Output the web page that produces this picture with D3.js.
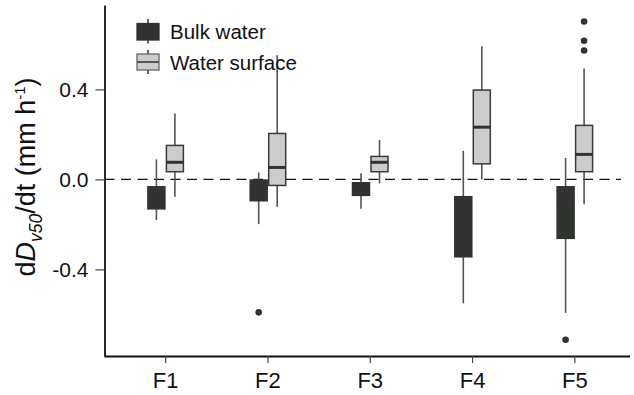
<!DOCTYPE html>
<html>
<head>
<meta charset="utf-8">
<script src="https://cdn.jsdelivr.net/npm/d3@7/dist/d3.min.js"></script>
<style>
  html, body { margin: 0; padding: 0; background: #fff; }
  svg { display: block; font-family: "Liberation Sans", Arial, sans-serif; }
</style>
</head>
<body>
<svg id="chart" width="634" height="395"></svg>
<script>
// Sampling sites and the two series
const categories = ["F1", "F2", "F3", "F4", "F5"];
const seriesNames = ["Bulk water", "Water surface"];

// Box statistics per site: lower whisker, Q1, median, Q3, upper whisker
const bulkLow    = [-0.181, -0.199, -0.131, -0.551, -0.593];
const bulkQ1     = [-0.131, -0.095, -0.071, -0.344, -0.262];
const bulkMedian = [-0.080, -0.040, -0.040, -0.200, -0.120];
const bulkQ3     = [-0.033, -0.003, -0.015, -0.077, -0.033];
const bulkHigh   = [ 0.089,  0.031,  0.027,  0.127,  0.095];
const bulkOutliers = [[], [-0.591], [], [], [-0.713]];

const surfLow    = [-0.077, -0.122, -0.018, 0.000, -0.110];
const surfQ1     = [ 0.034, -0.027,  0.034, 0.069,  0.034];
const surfMedian = [ 0.076,  0.053,  0.076, 0.232,  0.111];
const surfQ3     = [ 0.151,  0.204,  0.102, 0.397,  0.240];
const surfHigh   = [ 0.293,  0.552,  0.175, 0.592,  0.493];
const surfOutliers = [[], [], [], [], [0.702, 0.616, 0.573]];

const yTicks = [-0.4, 0.0, 0.4];

const fills   = { "Bulk water": "#313331", "Water surface": "#cccccc" };
const strokes = { "Bulk water": "#313331", "Water surface": "#3a3a3a" };
const FONT = "\"Liberation Sans\", Arial, sans-serif";

function build(name, low, q1, med, q3, high, outs) {
  return categories.map((c, i) => ({
    series: name, cat: c, low: low[i], q1: q1[i], med: med[i], q3: q3[i], high: high[i], outliers: outs[i]
  }));
}
const boxes = build("Bulk water", bulkLow, bulkQ1, bulkMedian, bulkQ3, bulkHigh, bulkOutliers)
  .concat(build("Water surface", surfLow, surfQ1, surfMedian, surfQ3, surfHigh, surfOutliers));

const svg = d3.select("#chart");

const x = d3.scaleBand().domain(categories).range([114.5, 626]).padding(0);
const sub = d3.scaleBand().domain(seriesNames).range([-18.5, 18.5]).padding(0);
const y = d3.scaleLinear().domain([-0.785, 0.775]).range([356, 5]);

const axisLeft = 104.5, axisBottom = 356;

// zero reference line
svg.append("line")
  .attr("x1", axisLeft).attr("x2", 621)
  .attr("y1", y(0)).attr("y2", y(0))
  .attr("stroke", "#111").attr("stroke-width", 1.3)
  .attr("stroke-dasharray", "10,6.5");

// boxes
const g = svg.append("g");
const bx = d => x(d.cat) + x.bandwidth() / 2 + sub(d.series);
const bw = sub.bandwidth();

const item = g.selectAll("g.box").data(boxes).join("g").attr("class", "box");

item.append("line")
  .attr("x1", d => bx(d) + bw / 2).attr("x2", d => bx(d) + bw / 2)
  .attr("y1", d => y(d.low)).attr("y2", d => y(d.high))
  .attr("stroke", "#555").attr("stroke-width", 1.6);

item.append("rect")
  .attr("x", d => bx(d) + 0.75).attr("width", bw - 1.5)
  .attr("y", d => y(d.q3)).attr("height", d => y(d.q1) - y(d.q3))
  .attr("fill", d => fills[d.series])
  .attr("stroke", d => strokes[d.series]).attr("stroke-width", 1.5);

item.append("line")
  .attr("x1", d => bx(d) + 0.75).attr("x2", d => bx(d) + bw - 0.75)
  .attr("y1", d => y(d.med)).attr("y2", d => y(d.med))
  .attr("stroke", "#313331").attr("stroke-width", 3);

item.selectAll("circle").data(d => d.outliers.map(v => ({ v, d })))
  .join("circle")
  .attr("cx", o => bx(o.d) + bw / 2).attr("cy", o => y(o.v))
  .attr("r", 3.3).attr("fill", "#313331");

// axes
const yAxis = d3.axisLeft(y).tickValues(yTicks)
  .tickFormat(v => d3.format(".1f")(v).replace("\u2212", "-"))
  .tickSize(9).tickSizeOuter(0).tickPadding(7);
const ya = svg.append("g").attr("transform", `translate(${axisLeft},0)`).call(yAxis);
ya.select(".domain").attr("stroke", "#111").attr("stroke-width", 1.8);
ya.selectAll(".tick line").attr("stroke", "#444").attr("stroke-width", 1.2);
ya.selectAll(".tick text").attr("font-size", 21).attr("fill", "#111").attr("font-family", FONT);

const xa = svg.append("g").attr("transform", `translate(0,${axisBottom})`)
  .call(d3.axisBottom(x).tickSize(7).tickSizeOuter(0).tickPadding(9));
xa.select(".domain").attr("d", `M${axisLeft},0.5H630`).attr("stroke", "#111").attr("stroke-width", 1.8);
xa.selectAll(".tick line").attr("stroke", "#444").attr("stroke-width", 1.2);
xa.selectAll(".tick text").attr("font-size", 22).attr("fill", "#111").attr("font-family", FONT);

// y axis title
const title = svg.append("text")
  .attr("transform", "translate(35,177) rotate(-90)")
  .attr("text-anchor", "middle")
  .attr("font-size", 27).attr("fill", "#111");
title.append("tspan").text("d");
title.append("tspan").attr("font-style", "italic").text("D");
title.append("tspan").attr("font-style", "italic").attr("font-size", 17.5).attr("dy", 7).text("v50");
title.append("tspan").attr("dy", -7).text("/dt (mm h");
title.append("tspan").attr("font-size", 15).attr("dy", -10).text("-1");
title.append("tspan").attr("dy", 10).text(")");

// legend
const legend = svg.append("g");
const legendRows = [
  { name: "Bulk water", top: 23.5, bottom: 40, wTop: 19, wBottom: 43.5, y: 39 },
  { name: "Water surface", top: 54, bottom: 70, wTop: 50, wBottom: 74, y: 70 }
];
const lr = legend.selectAll("g").data(legendRows).join("g");
lr.append("line")
  .attr("x1", 148).attr("x2", 148)
  .attr("y1", d => d.wTop).attr("y2", d => d.wBottom)
  .attr("stroke", "#333").attr("stroke-width", 1.5);
lr.append("rect")
  .attr("x", 137).attr("width", 22)
  .attr("y", d => d.top).attr("height", d => d.bottom - d.top)
  .attr("fill", d => fills[d.name])
  .attr("stroke", d => d.name === "Bulk water" ? "#313331" : "#666").attr("stroke-width", 1.3);
lr.filter(d => d.name === "Water surface").append("line")
  .attr("x1", 137).attr("x2", 159)
  .attr("y1", d => (d.top + d.bottom) / 2).attr("y2", d => (d.top + d.bottom) / 2)
  .attr("stroke", "#555").attr("stroke-width", 2);
lr.append("text")
  .attr("x", 170).attr("y", d => d.y)
  .attr("font-size", 20.5).attr("fill", "#111")
  .text(d => d.name);
</script>
</body>
</html>
